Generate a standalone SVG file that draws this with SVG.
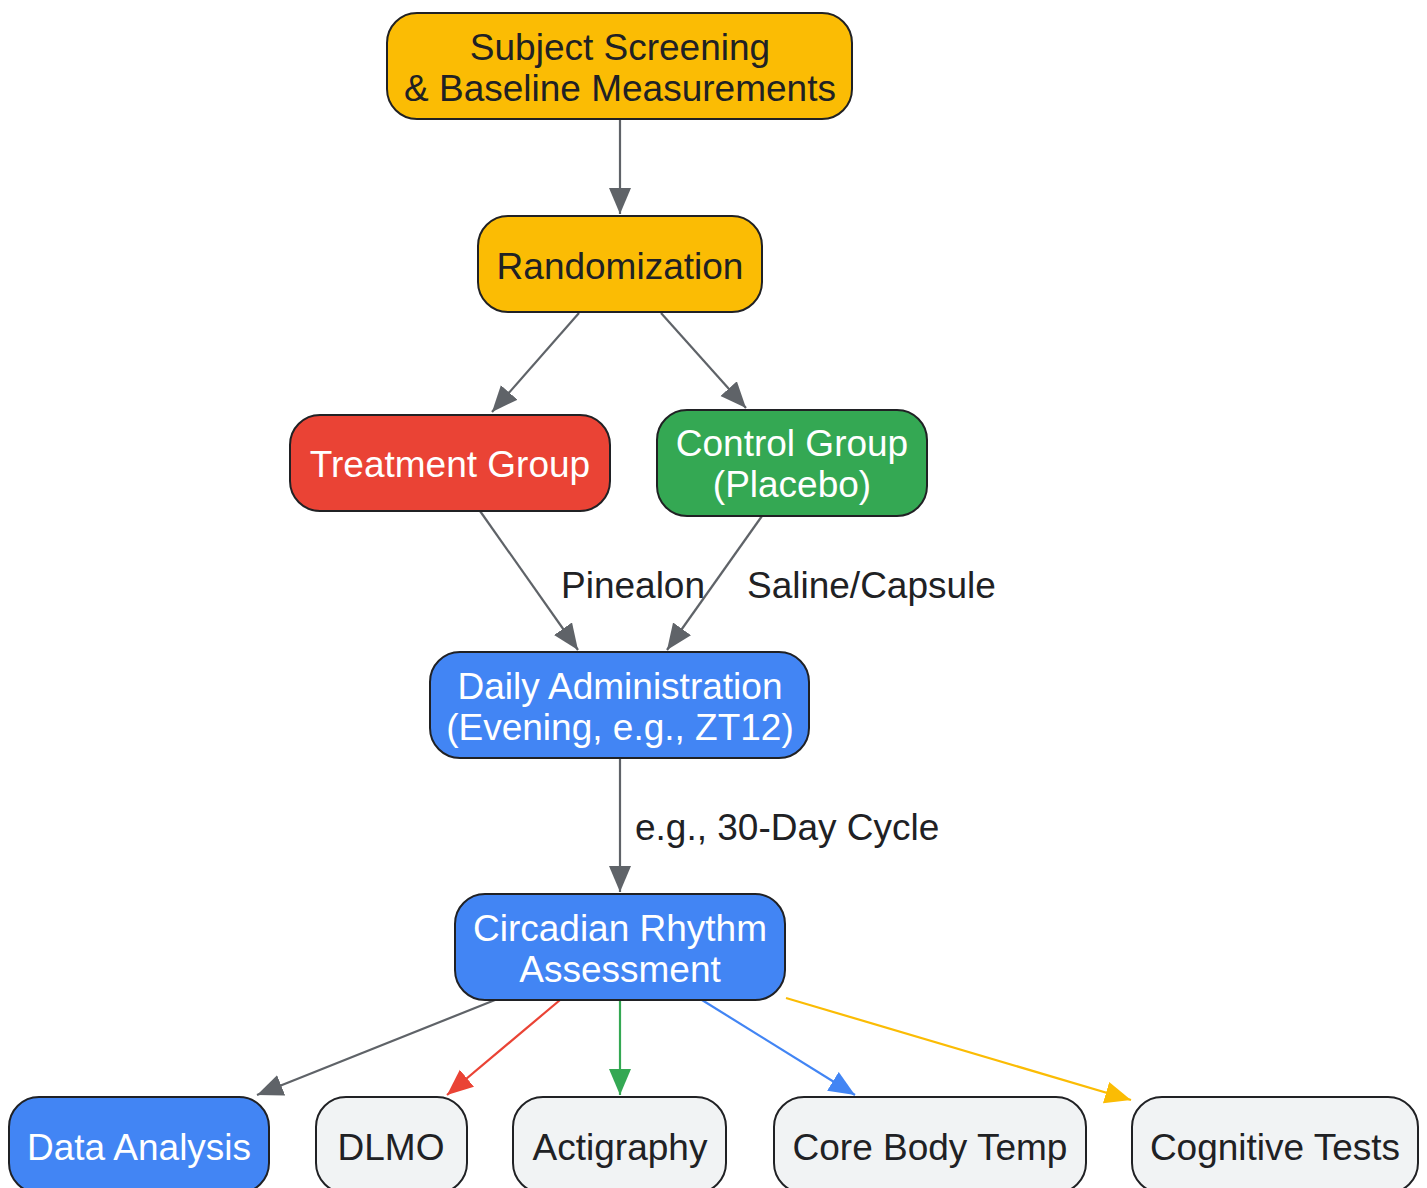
<svg xmlns="http://www.w3.org/2000/svg" width="1427" height="1188" viewBox="0 0 1427 1188">
<style>
.n{stroke:#202124;stroke-width:2}
.t{font-family:"Liberation Sans",Arial,sans-serif;font-size:37px;text-anchor:middle}
.d{fill:#202124}
.w{fill:#ffffff}
.e{fill:none;stroke-width:2.2}
.lbl{font-family:"Liberation Sans",Arial,sans-serif;font-size:37px;fill:#202124}
</style>
<defs>
<marker id="ag" markerUnits="userSpaceOnUse" markerWidth="28" markerHeight="24" refX="26" refY="11" orient="auto"><path d="M0,0 L26,11 L0,22 z" fill="#5F6368"/></marker>
<marker id="ar" markerUnits="userSpaceOnUse" markerWidth="28" markerHeight="24" refX="26" refY="11" orient="auto"><path d="M0,0 L26,11 L0,22 z" fill="#EA4335"/></marker>
<marker id="agr" markerUnits="userSpaceOnUse" markerWidth="28" markerHeight="24" refX="26" refY="11" orient="auto"><path d="M0,0 L26,11 L0,22 z" fill="#34A853"/></marker>
<marker id="ab" markerUnits="userSpaceOnUse" markerWidth="28" markerHeight="24" refX="26" refY="11" orient="auto"><path d="M0,0 L26,11 L0,22 z" fill="#4285F4"/></marker>
<marker id="ay" markerUnits="userSpaceOnUse" markerWidth="28" markerHeight="24" refX="26" refY="11" orient="auto"><path d="M0,0 L26,11 L0,22 z" fill="#FBBC04"/></marker>
</defs>
<rect width="1427" height="1188" fill="#ffffff"/>
<g id="connectors">
<line class="e" x1="620" y1="119" x2="620" y2="214" stroke="#5F6368" marker-end="url(#ag)"/>
<line class="e" x1="579" y1="313" x2="492" y2="412" stroke="#5F6368" marker-end="url(#ag)"/>
<line class="e" x1="661" y1="313" x2="746" y2="408" stroke="#5F6368" marker-end="url(#ag)"/>
<line class="e" x1="480" y1="511" x2="578" y2="650" stroke="#5F6368" marker-end="url(#ag)"/>
<line class="e" x1="762" y1="516" x2="667" y2="650" stroke="#5F6368" marker-end="url(#ag)"/>
<line class="e" x1="620" y1="758" x2="620" y2="892" stroke="#5F6368" marker-end="url(#ag)"/>
<line class="e" x1="495" y1="1000" x2="257" y2="1095" stroke="#5F6368" marker-end="url(#ag)"/>
<line class="e" x1="560" y1="1000" x2="447" y2="1095" stroke="#EA4335" marker-end="url(#ar)"/>
<line class="e" x1="620" y1="1000" x2="620" y2="1095" stroke="#34A853" marker-end="url(#agr)"/>
<line class="e" x1="702" y1="1000" x2="855" y2="1095" stroke="#4285F4" marker-end="url(#ab)"/>
<line class="e" x1="786" y1="998" x2="1131" y2="1100" stroke="#FBBC04" marker-end="url(#ay)"/>
<text class="lbl" x="561" y="598">Pinealon</text>
<text class="lbl" x="747" y="598">Saline/Capsule</text>
<text class="lbl" x="635" y="840">e.g., 30-Day Cycle</text>
</g>
<g id="screening">
<rect class="n" x="387" y="13" width="465" height="106" rx="30" fill="#FBBC04"/>
<text class="t d" x="620" y="60">Subject Screening</text>
<text class="t d" x="620" y="101">&amp; Baseline Measurements</text>
</g>
<g id="randomization">
<rect class="n" x="478" y="216" width="284" height="96" rx="30" fill="#FBBC04"/>
<text class="t d" x="620" y="279">Randomization</text>
</g>
<g id="treatment">
<rect class="n" x="290" y="415" width="320" height="96" rx="30" fill="#EA4335"/>
<text class="t w" x="450" y="477">Treatment Group</text>
</g>
<g id="control">
<rect class="n" x="657" y="410" width="270" height="106" rx="30" fill="#34A853"/>
<text class="t w" x="792" y="456">Control Group</text>
<text class="t w" x="792" y="497">(Placebo)</text>
</g>
<g id="administration">
<rect class="n" x="430" y="652" width="379" height="106" rx="30" fill="#4285F4"/>
<text class="t w" x="620" y="699">Daily Administration</text>
<text class="t w" x="620" y="740">(Evening, e.g., ZT12)</text>
</g>
<g id="assessment">
<rect class="n" x="455" y="894" width="330" height="106" rx="30" fill="#4285F4"/>
<text class="t w" x="620" y="941">Circadian Rhythm</text>
<text class="t w" x="620" y="982">Assessment</text>
</g>
<g id="analysis">
<rect class="n" x="9" y="1097" width="260" height="96" rx="30" fill="#4285F4"/>
<text class="t w" x="139" y="1160">Data Analysis</text>
</g>
<g id="dlmo">
<rect class="n" x="316" y="1097" width="151" height="96" rx="30" fill="#F1F3F4"/>
<text class="t d" x="391" y="1160">DLMO</text>
</g>
<g id="actigraphy">
<rect class="n" x="513" y="1097" width="213" height="96" rx="30" fill="#F1F3F4"/>
<text class="t d" x="620" y="1160">Actigraphy</text>
</g>
<g id="coretemp">
<rect class="n" x="774" y="1097" width="312" height="96" rx="30" fill="#F1F3F4"/>
<text class="t d" x="930" y="1160">Core Body Temp</text>
</g>
<g id="cognitive">
<rect class="n" x="1132" y="1097" width="286" height="96" rx="30" fill="#F1F3F4"/>
<text class="t d" x="1275" y="1160">Cognitive Tests</text>
</g>
</svg>
